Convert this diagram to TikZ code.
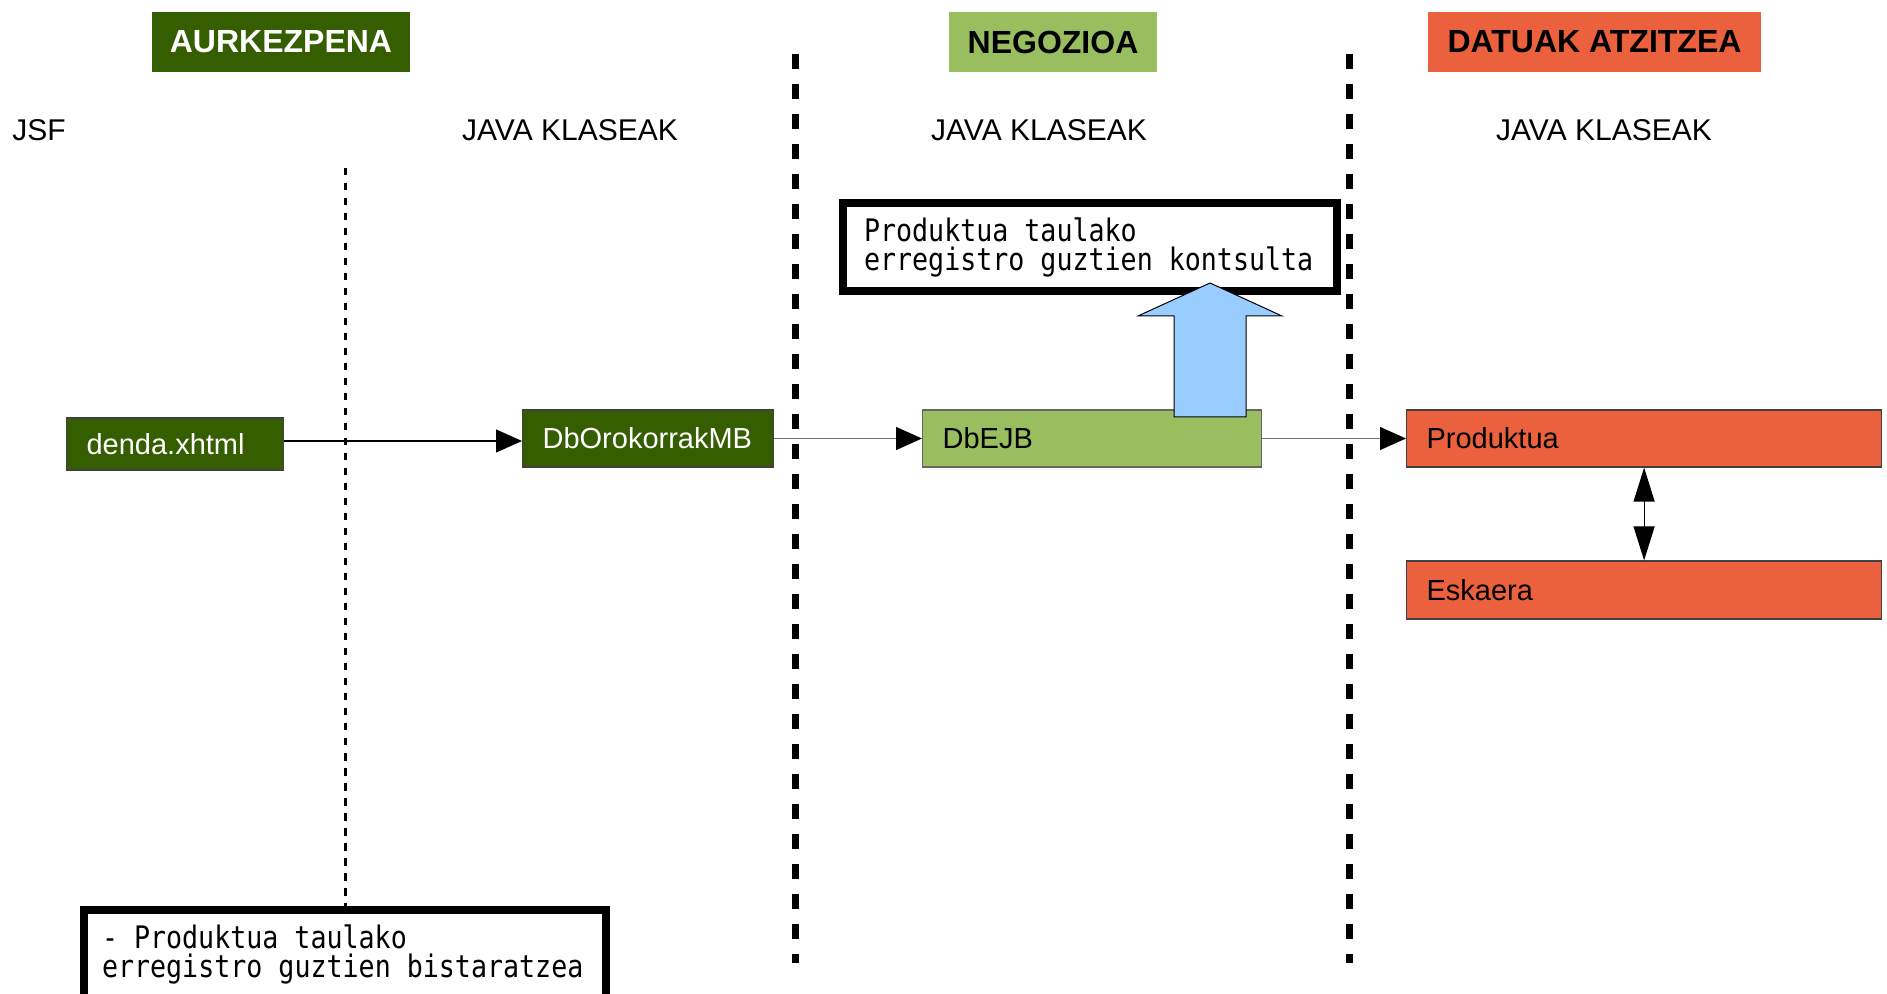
\documentclass[tikz,border=0pt]{standalone}
\usepackage{fontspec}
\setmainfont{Liberation Sans}
\newfontfamily\notefont[FakeStretch=0.86]{DejaVu Sans Mono}
\usetikzlibrary{arrows.meta}
\definecolor{aurkgreen}{HTML}{355E00}
\definecolor{negozgreen}{HTML}{99BE60}
\definecolor{datuorange}{HTML}{EB613D}
\definecolor{kontsblue}{HTML}{99CCFF}
\begin{document}
\begin{tikzpicture}[x=0.5pt,y=-0.5pt,
	header/.style={inner sep=0pt,minimum height=30pt,font=\fontsize{16}{19}\selectfont\bfseries},
	label/.style={inner sep=0pt,font=\fontsize{15}{18}\selectfont,anchor=base},
	klase/.style={draw=black!75,line width=.6pt,anchor=west,inner xsep=10pt,inner ysep=0pt,align=left,font=\fontsize{14.5}{17}\selectfont},
	note/.style={draw,line width=4pt,align=left,inner xsep=10.5pt,font=\notefont\fontsize{15.5}{14.5}\selectfont,
		execute at begin node={\spaceskip=8pt\relax\hyphenpenalty=10000\relax}},
	sep/.style={line width=3.5pt,dash pattern=on 7.5pt off 7.5pt},
	flow/.style={-{Triangle[length=13pt,width=11.5pt,color=black]},line width=.6pt}]
	\clip (0,0) rectangle (1887,994);

	\node[header,fill=aurkgreen,text=white,minimum width=129pt] (aurk) at (281,42) {AURKEZPENA};
	\node[header,fill=negozgreen,minimum width=104pt] (negoz) at (1053,42) {NEGOZIOA};
	\node[header,fill=datuorange,minimum width=166.5pt] (datuak) at (1594.5,42) {DATUAK ATZITZEA};

	\node[label,anchor=base west] (jsf) at (12,141) {JSF};
	\node[label] (java1) at (570,141) {JAVA KLASEAK};
	\node[label] (java2) at (1039,141) {JAVA KLASEAK};
	\node[label] (java3) at (1604,141) {JAVA KLASEAK};

	\draw[sep] (795,54) -- (795,963);
	\draw[sep] (1349,54) -- (1349,963);

	\node[note,text width=226pt,minimum height=44pt] (kontsulta) at (1090,247) {Produktua taulako\\erregistro guztien kontsulta};
	\node[note,text width=243pt,inner xsep=9pt,anchor=north,inner ysep=7.5pt] (bista) at (345,906) {- Produktua taulako\\erregistro guztien bistaratzea};
	\coordinate (jsfsep) at (345,168);
	\draw[line width=1.5pt,dash pattern=on 3.75pt off 3.75pt] (jsfsep) -- (bista.north);

	\node[klase,fill=aurkgreen,text=white,text width=88.5pt,minimum height=26pt] (denda) at (66,444) {denda.xhtml};
	\node[klase,fill=aurkgreen,text=white,text width=105.5pt,minimum height=28.5pt] (orokorrak) at (522,438.5) {DbOrokorrakMB};
	\node[klase,fill=negozgreen,draw=black!60,text width=149.5pt,minimum height=28.5pt] (dbejb) at (922,438.5) {DbEJB};
	\node[klase,fill=datuorange,text width=217.5pt,minimum height=28.5pt] (produktua) at (1406,438.5) {Produktua};
	\node[klase,fill=datuorange,text width=217.5pt,minimum height=29pt] (eskaera) at (1406,590) {Eskaera};

	\draw[flow] ([yshift=1.5pt]denda.east) -- ([yshift=1.5pt]denda.east -| orokorrak.west);
	\draw[flow,draw=black!55] (orokorrak) -- (dbejb);
	\draw[flow,draw=black!55] (dbejb) -- (produktua);
	\draw[{Triangle[length=17pt,width=10.5pt]}-{Triangle[length=17pt,width=10.5pt]},line width=.6pt] (produktua) -- (eskaera);

	\draw[fill=kontsblue,line width=.5pt] (1174,417) -- (1174,316) -- (1138,316) -- (1210,283) -- (1282,316) -- (1246,316) -- (1246,417) -- cycle;
\end{tikzpicture}
\end{document}
